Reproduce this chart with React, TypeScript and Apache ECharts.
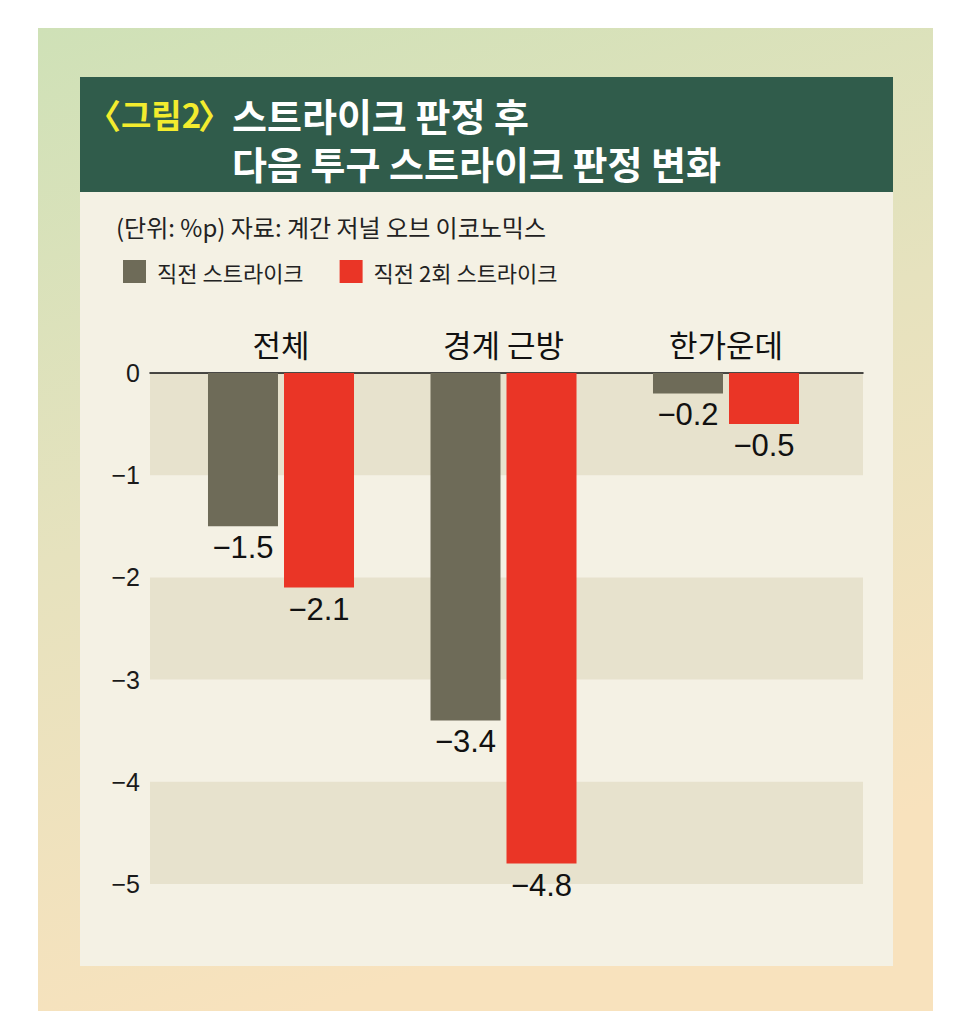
import React, { useEffect, useRef } from 'react';
import * as echarts from 'echarts';

const categories = ['전체', '경계 근방', '한가운데'];
const seriesNames = ['직전 스트라이크', '직전 2회 스트라이크'];
const prevStrike = [-1.5, -3.4, -0.2];
const prev2Strike = [-2.1, -4.8, -0.5];
const yMin = -5;
const yMax = 0;
const yInterval = 1;
const titleTag = ['〈', '그림2', '〉'];
const titleLines = ['스트라이크 판정 후', '다음 투구 스트라이크 판정 변화'];
const sourceNote = '(단위: %p) 자료: 계간 저널 오브 이코노믹스';

const KR = '"Noto Sans CJK KR", "Noto Sans", sans-serif';
const NUM = '"Liberation Sans", Arial, sans-serif';
const fmt = (v: number) => (v < 0 ? '−' + String(Math.abs(v)) : String(v));

export default function App() {
  const ref = useRef<HTMLDivElement>(null);
  useEffect(() => {
    document.body.style.margin = '0';
    const chart = echarts.init(ref.current!, null, { renderer: 'svg' });
    const option: any = {
      animation: false,
      backgroundColor: '#ffffff',
      graphic: [
        {
          type: 'rect', z: -10, shape: { x: 38, y: 28, width: 895, height: 983 },
          style: {
            fill: new echarts.graphic.LinearGradient(0, 0, 0.3, 1, [
              { offset: 0, color: '#CFE1B7' },
              { offset: 0.5, color: '#E6E2BE' },
              { offset: 1, color: '#F8E2BD' },
            ]),
          },
        },
        { type: 'rect', z: -9, shape: { x: 80, y: 77, width: 813, height: 889 }, style: { fill: '#F4F1E4' } },
        { type: 'rect', z: -8, shape: { x: 80, y: 77, width: 813, height: 115 }, style: { fill: '#305C4B' } },
        { type: 'text', z: 10, x: 104, y: 114, style: { text: titleTag[0], fill: '#F3EC2E', font: `bold 34px ${KR}`, lineHeight: 36, textAlign: 'center', textVerticalAlign: 'middle' } },
        { type: 'text', z: 10, x: 121, y: 114, style: { text: titleTag[1], fill: '#F3EC2E', font: `bold 33px ${KR}`, lineHeight: 36, textAlign: 'left', textVerticalAlign: 'middle' } },
        { type: 'text', z: 10, x: 215, y: 114, style: { text: titleTag[2], fill: '#F3EC2E', font: `bold 34px ${KR}`, lineHeight: 36, textAlign: 'center', textVerticalAlign: 'middle' } },
        { type: 'text', z: 10, x: 232, y: 138, style: { text: titleLines.join('\n'), fill: '#ffffff', font: `bold 38px ${KR}`, lineHeight: 48, textAlign: 'left', textVerticalAlign: 'middle' } },
        { type: 'text', z: 10, x: 116, y: 226, style: { text: sourceNote, fill: '#222222', font: `24px ${KR}`, textAlign: 'left', textVerticalAlign: 'middle' } },
      ],
      legend: {
        left: 118,
        top: 255,
        itemWidth: 23,
        itemHeight: 23,
        itemGap: 36,
        icon: 'rect',
        data: seriesNames,
        textStyle: { fontFamily: KR, fontSize: 22, color: '#222222', padding: [0, 0, 0, 6] },
      },
      grid: [
        { left: 150, top: 373, width: 713, height: 511 },
        { left: 169.75, top: 373, width: 667.5, height: 511 },
      ],
      xAxis: [
        {
          gridIndex: 0, type: 'category', data: categories, position: 'top',
          axisLine: { show: true, lineStyle: { color: '#111111', width: 1.5 } },
          axisTick: { show: false }, axisLabel: { show: false }, splitLine: { show: false },
        },
        {
          gridIndex: 1, type: 'category', data: categories, position: 'top',
          axisLine: { show: false }, axisTick: { show: false },
          axisLabel: { fontFamily: KR, fontSize: 31, color: '#111111', margin: 14, lineHeight: 31 },
        },
      ],
      yAxis: [
        {
          gridIndex: 0, type: 'value', min: yMin, max: yMax, interval: yInterval,
          axisLine: { show: false }, axisTick: { show: false }, splitLine: { show: false },
          splitArea: { show: true, areaStyle: { color: ['#E7E2CD', 'rgba(0,0,0,0)'] } },
          axisLabel: { formatter: (v: number) => fmt(v), fontFamily: NUM, fontSize: 25, color: '#1a1a1a', margin: 10, padding: [9, 0, 0, 0] },
        },
        { gridIndex: 1, type: 'value', min: yMin, max: yMax, interval: yInterval, show: false, splitLine: { show: false } },
      ],
      series: [
        {
          name: seriesNames[0], type: 'bar', xAxisIndex: 1, yAxisIndex: 1, data: prevStrike,
          barWidth: 70, barGap: '8.6%', itemStyle: { color: '#6E6B58' },
          label: { show: true, position: 'bottom', distance: 6, formatter: (p: any) => fmt(p.value), fontFamily: NUM, fontSize: 31, color: '#111111' },
        },
        {
          name: seriesNames[1], type: 'bar', xAxisIndex: 1, yAxisIndex: 1, data: prev2Strike,
          barWidth: 70, barGap: '8.6%', itemStyle: { color: '#EA3526' },
          label: { show: true, position: 'bottom', distance: 6, formatter: (p: any) => fmt(p.value), fontFamily: NUM, fontSize: 31, color: '#111111' },
        },
      ],
    };
    chart.setOption(option);
    return () => chart.dispose();
  }, []);
  return <div ref={ref} style={{ width: 970, height: 1035, position: 'absolute', left: 0, top: 0 }} />;
}
